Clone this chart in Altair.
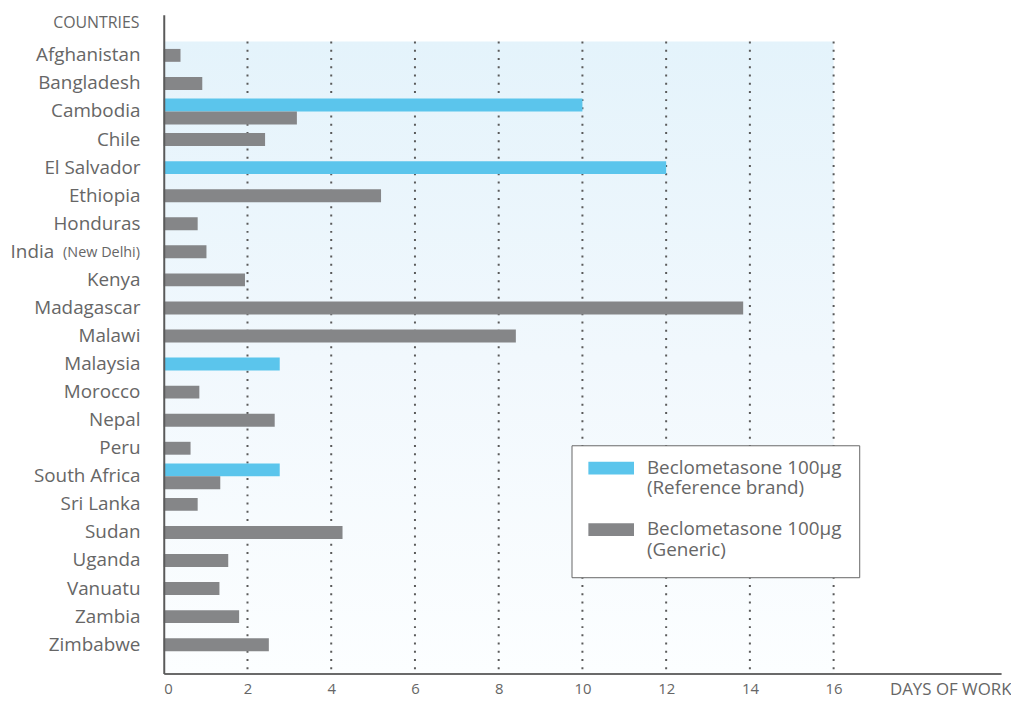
import altair as alt
import pandas as pd

countries = ["Afghanistan", "Bangladesh", "Cambodia", "Chile", "El Salvador", "Ethiopia",
             "Honduras", "India", "Kenya", "Madagascar", "Malawi", "Malaysia", "Morocco",
             "Nepal", "Peru", "South Africa", "Sri Lanka", "Sudan", "Uganda", "Vanuatu",
             "Zambia", "Zimbabwe"]
reference_brand = [None, None, 10.0, None, 12.0, None, None, None, None, None, None, 2.77,
                   None, None, None, 2.77, None, None, None, None, None, None]
generic = [0.40, 0.92, 3.18, 2.42, None, 5.19, 0.81, 1.02, 1.94, 13.84, 8.41, None,
           0.85, 2.65, 0.64, 1.35, 0.81, 4.27, 1.54, 1.33, 1.80, 2.51]
series_names = ["Reference", "Generic"]
series_colors = ["#5bc5ec", "#858688"]
grid_ticks = [2, 4, 6, 8, 10, 12, 14, 16]
axis_ticks = [0, 2, 4, 6, 8, 10, 12, 14, 16]

rows = []
for c, r, g in zip(countries, reference_brand, generic):
    if r is not None:
        rows.append({"country": c, "series": "Reference", "days": r})
    if g is not None:
        rows.append({"country": c, "series": "Generic", "days": g})
df = pd.DataFrame(rows)

TEXT = "#666666"
FONT = "Open Sans"
W, H = 844, 664

xscale = alt.Scale(domain=[0, 20], nice=False, zero=True)
yscale = alt.Scale(domain=countries, paddingInner=0, paddingOuter=0.737, align=0.644)

bg = alt.Chart(pd.DataFrame({"a": [0]})).mark_rect(
    fill=alt.Gradient(gradient="linear",
                      stops=[alt.GradientStop(color="#e4f3fb", offset=0),
                             alt.GradientStop(color="#f1f8fd", offset=0.5),
                             alt.GradientStop(color="#fcfeff", offset=1)],
                      x1=0, y1=0, x2=0, y2=1)
).encode(x=alt.datum(0, scale=xscale), x2=alt.datum(16), y=alt.value(27), y2=alt.value(H))

grid = alt.Chart(pd.DataFrame({"t": grid_ticks})).mark_rule(
    color="#5a5a5a", strokeWidth=2, strokeDash=[2, 6.3]
).encode(x=alt.X("t:Q", scale=xscale), y=alt.value(27), y2=alt.value(H))

legend_label_expr = ("datum.label == 'Reference' ? ['Beclometasone 100µg', '(Reference brand)']"
                     " : ['Beclometasone 100µg', '(Generic)']")

# bar centre sits at band start + offset: half a band (14.14) moves it to the row centre
bars = alt.Chart(df).transform_joinaggregate(
    n="count()", groupby=["country"]
).transform_calculate(
    off="datum.n > 1 ? (datum.series == 'Reference' ? 7.64 : 20.64) : 14.14"
).mark_bar(height=13).encode(
    x=alt.X("days:Q", scale=xscale,
            axis=alt.Axis(values=axis_ticks, grid=False, ticks=False, domainColor="#6a6a6a",
                          domainWidth=2, labelFont=FONT, labelFontSize=15, labelColor=TEXT,
                          labelPadding=8, title="DAYS OF WORK", titleFont=FONT,
                          titleFontSize=17, titleFontWeight="normal", titleColor=TEXT,
                          titleAlign="right", titleAngle=0, titleBaseline="middle",
                          titleX=854, titleY=16, zindex=1)),
    y=alt.Y("country:N", scale=yscale, sort=countries,
            axis=alt.Axis(ticks=False, grid=False, domainColor="#5a5a5a", domainWidth=2,
                          labelFont=FONT, labelFontSize=19, labelColor=TEXT,
                          labelPadding={"condition": {"test": "datum.value == 'India'", "value": 111},
                                        "value": 24},
                          title="COUNTRIES", titleFont=FONT, titleFontSize=16,
                          titleFontWeight="normal", titleColor=TEXT, titleAngle=0,
                          titleAlign="right", titleBaseline="middle", titleX=-25, titleY=8,
                          zindex=1)),
    yOffset=alt.YOffset("off:Q", scale=None),
    color=alt.Color("series:N", scale=alt.Scale(domain=series_names, range=series_colors),
                    legend=alt.Legend(orient="none", legendX=411, legendY=434, title=None,
                                      fillColor="white", strokeColor="#666666", padding=17,
                                      symbolType="M-1,-1.043H3V0.087H-1Z", symbolSize=529,
                                      symbolStrokeWidth=0, labelExpr=legend_label_expr,
                                      labelFont=FONT, labelFontSize=19, labelColor=TEXT,
                                      labelLimit=320, labelOffset=36, rowPadding=21,
                                      labelBaseline="alphabetic")),
)

note = alt.Chart(pd.DataFrame({"country": ["India"], "note": ["(New Delhi)"]})).mark_text(
    align="right", baseline="middle", font=FONT, fontSize=14.5, color=TEXT, dx=-24, dy=1.5
).encode(x=alt.value(0), y=alt.Y("country:N", scale=yscale, sort=countries), text="note:N")

chart = alt.layer(bg, grid, bars, note).properties(
    width=W, height=H,
    autosize=alt.AutoSizeParams(type="none"),
    padding={"left": 157, "top": 4, "right": 10, "bottom": 24},
    background="white",
).configure_view(stroke=None)

chart.save("out.html", embed_options={"renderer": "svg", "actions": False})
